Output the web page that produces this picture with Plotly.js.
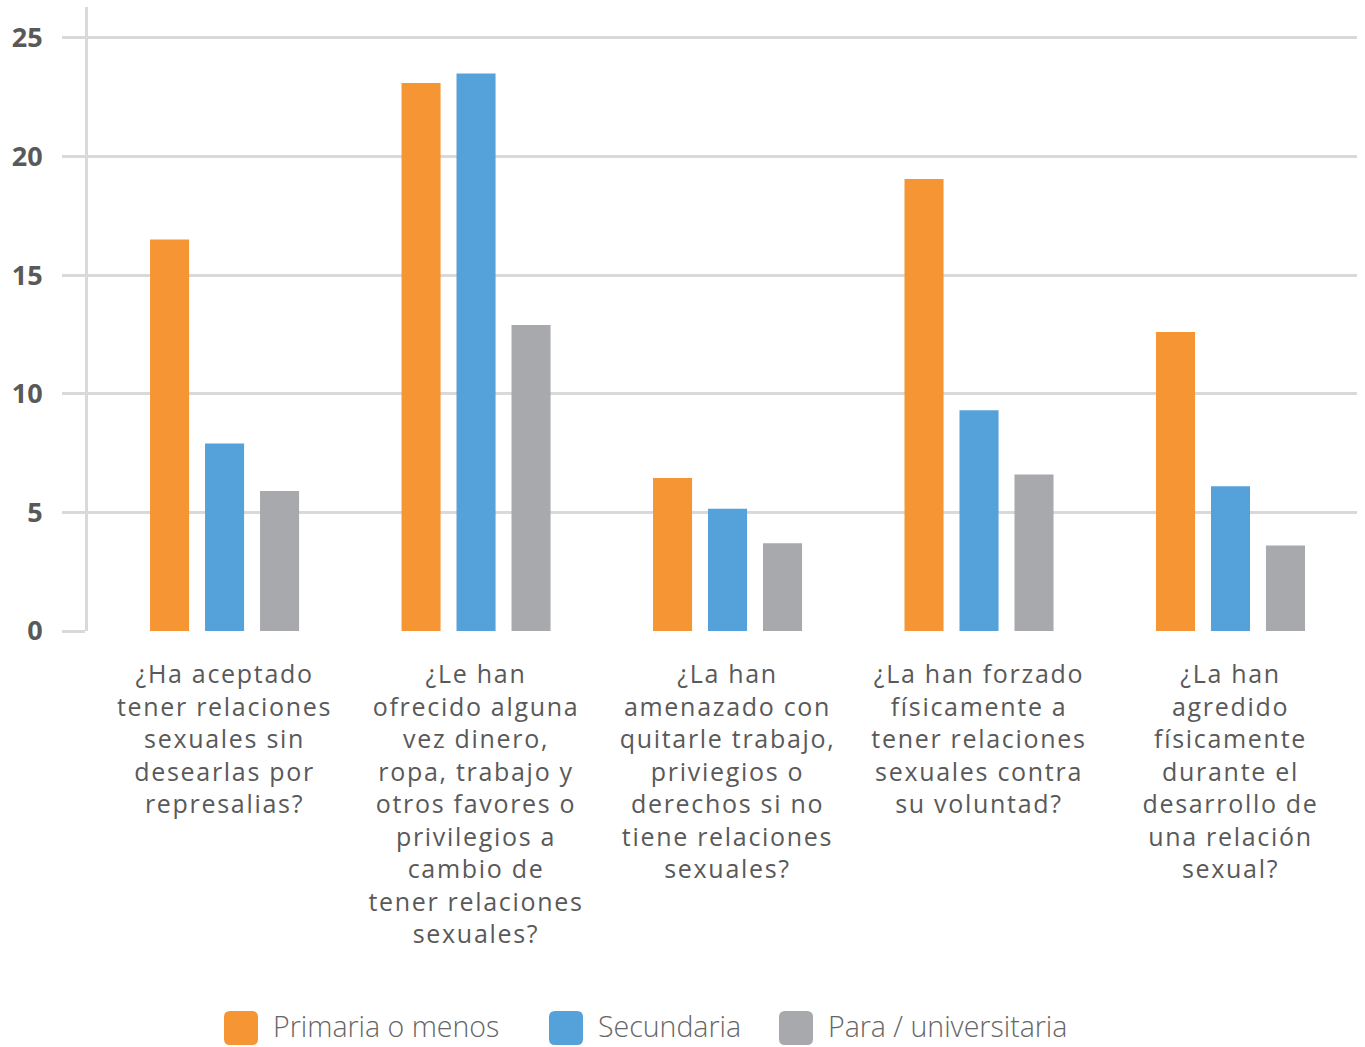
<!DOCTYPE html>
<html>
<head>
<meta charset="utf-8">
<script src="https://cdn.plot.ly/plotly-3.0.1.min.js"></script>
<style>
body{margin:0;background:#fff;}
#chart{width:1365px;height:1047px;}
.xtick text{letter-spacing:1.7px;}
</style>
</head>
<body>
<div id="chart"></div>
<script>
const categories = [
  "¿Ha aceptado<br>tener relaciones<br>sexuales sin<br>desearlas por<br>represalias?",
  "¿Le han<br>ofrecido alguna<br>vez dinero,<br>ropa, trabajo y<br>otros favores o<br>privilegios a<br>cambio de<br>tener relaciones<br>sexuales?",
  "¿La han<br>amenazado con<br>quitarle trabajo,<br>priviegios o<br>derechos si no<br>tiene relaciones<br>sexuales?",
  "¿La han forzado<br>físicamente a<br>tener relaciones<br>sexuales contra<br>su voluntad?",
  "¿La han<br>agredido<br>físicamente<br>durante el<br>desarrollo de<br>una relación<br>sexual?"
];
const seriesNames = ["Primaria o menos", "Secundaria", "Para / universitaria"];
const primaria = [16.5, 23.1, 6.45, 19.05, 12.6];
const secundaria = [7.9, 23.5, 5.15, 9.3, 6.1];
const universitaria = [5.9, 12.9, 3.7, 6.6, 3.6];
const colors = ["#F69533", "#55A1D9", "#A8A9AC"];
const tickVals = [0, 5, 10, 15, 20, 25];

const values = [primaria, secundaria, universitaria];
const traces = values.map((v, i) => ({
  type: "bar",
  name: seriesNames[i],
  x: categories,
  y: v,
  marker: {color: colors[i], line: {width: 0}},
  showlegend: false,
  hoverinfo: "skip"
}));

// custom legend: rounded squares + labels
const legendX = [224, 549, 779];
const shapes = [];
const annotations = [];
const W = 1269, H = 624, L = 88, T = 7;
legendX.forEach((px, i) => {
  const cx = (px + 17 - L) / W;
  const cy = (631 - 1028) / H;
  const r = 6, s = 17;
  shapes.push({
    type: "path", xref: "paper", yref: "paper",
    xsizemode: "pixel", ysizemode: "pixel",
    xanchor: cx, yanchor: cy,
    path: `M ${-s+r} ${-s} L ${s-r} ${-s} Q ${s} ${-s} ${s} ${-s+r} L ${s} ${s-r} Q ${s} ${s} ${s-r} ${s} L ${-s+r} ${s} Q ${-s} ${s} ${-s} ${s-r} L ${-s} ${-s+r} Q ${-s} ${-s} ${-s+r} ${-s} Z`,
    fillcolor: colors[i], line: {width: 0}
  });
  annotations.push({
    xref: "paper", yref: "paper",
    x: (px + 47 - L) / W, y: (631 - 1026) / H,
    xanchor: "left", yanchor: "middle",
    text: seriesNames[i], showarrow: false,
    font: {family: "Open Sans", size: 28.5, color: "#666666", weight: 300}
  });
});

const layout = {
  width: 1365, height: 1047,
  margin: {l: L, r: 1365 - 1357, t: T, b: 1047 - 631},
  paper_bgcolor: "#ffffff", plot_bgcolor: "#ffffff",
  barmode: "group",
  bargap: 0.344,
  bargroupgap: 0.29,
  xaxis: {
    type: "category",
    range: [-0.543, 4.503],
    showgrid: false, zeroline: false, showline: false,
    ticks: "",
    tickfont: {family: "Open Sans", size: 25, color: "#595959"},
    ticklabelstandoff: 26,
    fixedrange: true
  },
  yaxis: {
    range: [0, 26.3],
    tickvals: tickVals,
    ticktext: tickVals.map(String),
    showgrid: true, gridcolor: "#d9d9d9", gridwidth: 3,
    zeroline: false,
    showline: true, linecolor: "#d9d9d9", linewidth: 3,
    ticks: "outside", ticklen: 23, tickwidth: 3, tickcolor: "#d9d9d9",
    tickfont: {family: "Open Sans", size: 27, color: "#595959", weight: 700},
    ticklabelstandoff: 14,
    fixedrange: true
  },
  shapes: shapes,
  annotations: annotations,
  showlegend: false
};

Plotly.newPlot("chart", traces, layout, {displayModeBar: false, staticPlot: true});
</script>
</body>
</html>
